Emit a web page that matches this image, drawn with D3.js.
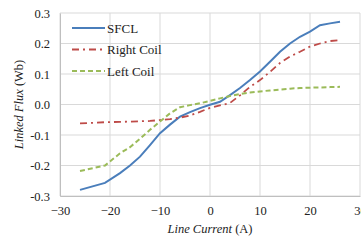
<!DOCTYPE html>
<html>
<head>
<meta charset="utf-8">
<script src="https://cdn.jsdelivr.net/npm/d3@7"></script>
<style>
  body { margin: 0; background: #fff; }
</style>
</head>
<body>
<div id="chart"></div>
<script>
var current = [-26, -21, -18, -16, -14, -12, -10, -8, -6, -4, -2, 0, 2, 4, 6, 8, 10, 12, 14, 16, 18, 20, 22, 24, 26];
var sfcl  = [-0.280, -0.257, -0.225, -0.200, -0.171, -0.133, -0.094, -0.066, -0.040, -0.025, -0.012, -0.001, 0.009, 0.031, 0.054, 0.080, 0.108, 0.140, 0.173, 0.200, 0.222, 0.239, 0.260, 0.266, 0.271];
var right = [-0.062, -0.058, -0.057, -0.056, -0.055, -0.054, -0.051, -0.048, -0.043, -0.036, -0.024, -0.011, -0.003, 0.005, 0.030, 0.058, 0.080, 0.107, 0.136, 0.157, 0.173, 0.190, 0.200, 0.208, 0.211];
var left  = [-0.218, -0.200, -0.160, -0.140, -0.112, -0.083, -0.056, -0.029, -0.009, -0.002, 0.004, 0.012, 0.020, 0.028, 0.034, 0.039, 0.043, 0.046, 0.049, 0.052, 0.054, 0.055, 0.056, 0.057, 0.058];
var seriesNames = ["SFCL", "Right Coil", "Left Coil"];
var xTicks = [-30, -20, -10, 0, 10, 20, 30];
var yTicks = [-0.3, -0.2, -0.1, 0.0, 0.1, 0.2, 0.3];

var outerWidth = 361, outerHeight = 241,
    margin = {left: 60, top: 13, right: 1, bottom: 45},
    serif = "'Liberation Serif'";

var xScale = d3.scaleLinear().domain([-30, 30]).range([0, 300]),
    yScale = d3.scaleLinear().domain([-0.3, 0.3]).range([183, 0]);

var colors = {"SFCL": "#4a7ebb", "Right Coil": "#be4b48", "Left Coil": "#9bbb59"},
    dashes = {"SFCL": null, "Right Coil": "7,4,2,4", "Left Coil": "5,3"},
    widths = {"SFCL": 2, "Right Coil": 1.8, "Left Coil": 2};

var svg = d3.select("#chart").append("svg")
    .attr("width", outerWidth)
    .attr("height", outerHeight)
  .append("g")
    .attr("transform", "translate(" + margin.left + "," + margin.top + ")");

// grid
svg.selectAll(".hgrid").data(yTicks).enter().append("line")
    .attr("x1", 0).attr("x2", xScale(30))
    .attr("y1", function(d) { return yScale(d); })
    .attr("y2", function(d) { return yScale(d); })
    .style("stroke", "#d9d9d9").style("stroke-width", 1);
svg.selectAll(".vgrid").data(xTicks).enter().append("line")
    .attr("x1", function(d) { return xScale(d); })
    .attr("x2", function(d) { return xScale(d); })
    .attr("y1", 0).attr("y2", yScale(-0.3))
    .style("stroke", "#d9d9d9").style("stroke-width", 1);

// axes
var xAxis = d3.axisBottom(xScale).tickValues(xTicks).tickSize(0).tickPadding(10),
    yAxis = d3.axisLeft(yScale).tickValues(yTicks).tickSize(0).tickPadding(10);

var gx = svg.append("g")
    .attr("transform", "translate(0," + yScale(-0.3) + ")")
    .call(xAxis);
gx.select(".domain").style("stroke", "#bfbfbf");
gx.selectAll("text").style("font-family", serif).style("font-size", "12.5px").style("fill", "#222");

var gy = svg.append("g").call(yAxis);
gy.select(".domain").style("stroke", "#bfbfbf");
gy.selectAll("text").style("font-family", serif).style("font-size", "12.5px").style("fill", "#222")
    .text(function(d) { return d3.format(".1f")(d).replace("\u2212", "-"); });

// lines
var data = {"SFCL": sfcl, "Right Coil": right, "Left Coil": left};
var line = d3.line()
    .x(function(d, i) { return xScale(current[i]); })
    .y(function(d) { return yScale(d); });

seriesNames.forEach(function(name) {
  svg.append("path")
      .datum(data[name])
      .attr("d", line)
      .style("fill", "none")
      .style("stroke", colors[name])
      .style("stroke-width", widths[name])
      .style("stroke-dasharray", dashes[name]);
});

// legend
var legend = svg.selectAll(".legend").data(seriesNames).enter().append("g")
    .attr("transform", function(d, i) { return "translate(12," + (15 + i * 21.5) + ")"; });
legend.append("line")
    .attr("x1", 0).attr("x2", 33)
    .style("stroke", function(d) { return colors[d]; })
    .style("stroke-width", function(d) { return widths[d]; })
    .style("stroke-dasharray", function(d) { return dashes[d]; });
legend.append("text")
    .attr("x", 35).attr("dy", "0.35em")
    .style("font-family", serif).style("fill", "#222")
    .style("font-size", "13px")
    .text(function(d) { return d; });

// axis titles
var xt = svg.append("text")
    .attr("x", xScale(0)).attr("y", yScale(-0.3) + 37)
    .attr("text-anchor", "middle")
    .style("font-family", serif).style("fill", "#222")
    .style("font-size", "12.5px");
xt.append("tspan").style("font-style", "italic").text("Line Current");
xt.append("tspan").text(" (A)");

var yt = svg.append("text")
    .attr("transform", "translate(-37," + yScale(0) + ") rotate(-90)")
    .attr("text-anchor", "middle")
    .style("font-family", serif).style("fill", "#222")
    .style("font-size", "12.5px");
yt.append("tspan").style("font-style", "italic").text("Linked Flux");
yt.append("tspan").text(" (Wb)");
</script>
</body>
</html>
